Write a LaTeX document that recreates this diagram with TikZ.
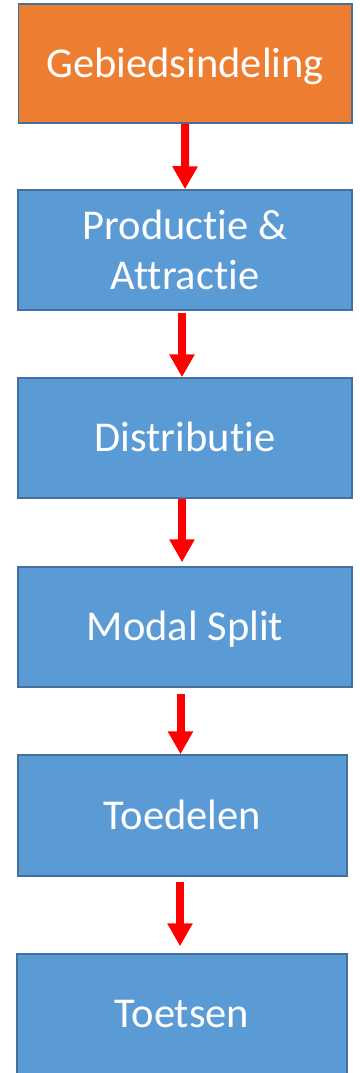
\documentclass[tikz,border=0pt]{standalone}
\usepackage{fontspec}
\setmainfont{Carlito}[Ligatures=NoCommon]
\usetikzlibrary{arrows.meta}
\definecolor{boxblue}{HTML}{5B9BD5}
\definecolor{boxorange}{HTML}{ED7D31}
\definecolor{boxline}{HTML}{41719C}
\definecolor{arrowred}{HTML}{FF0000}
\begin{document}
\begin{tikzpicture}[x=1pt,y=-1pt,
  stage/.style={draw=boxline, line width=1.5pt, fill=boxblue, text=white,
    inner sep=0pt, font=\fontsize{42.5}{50}\selectfont, align=center,
    minimum width=334pt, minimum height=120pt},
  oneline/.style={text height=27.5pt, text depth=0pt},
  flow/.style={draw=arrowred, line width=8pt,
    -{Triangle[width=24pt,length=23pt]}}]
\useasboundingbox (0,0) rectangle (359,1073);
% process stages
\node[stage, oneline, fill=boxorange, minimum width=333.5pt, minimum height=119pt]
  (gebied) at (185.25,63.5) {Gebiedsindeling};
\node[stage] (prodattr) at (185,250) {Productie \&\\Attractie};
\node[stage, oneline] (distr) at (185,438) {Distributie};
\node[stage, oneline] (modal) at (185,627) {Modal Split};
\node[stage, oneline, minimum width=329pt, minimum height=121pt]
  (toedelen) at (182.5,815.5) {Toedelen};
\node[stage, oneline, minimum width=330pt] (toetsen) at (182,1014) {Toetsen};
% flow between the stages
\draw[flow] (gebied.south) -- (prodattr.north);
\draw[flow, shorten <=2pt] ([xshift=-3pt]prodattr.south) -- ([xshift=-3pt]distr.north);
\draw[flow, shorten >=4pt] ([xshift=-3pt]distr.south) -- ([xshift=-3pt]modal.north);
\draw[flow, shorten <=6pt] ([xshift=-4.5pt]modal.south) -- ([xshift=-2pt]toedelen.north);
\draw[flow, shorten <=5pt, shorten >=7pt] ([xshift=-2.5pt]toedelen.south) -- ([xshift=-2pt]toetsen.north);
\end{tikzpicture}
\end{document}
